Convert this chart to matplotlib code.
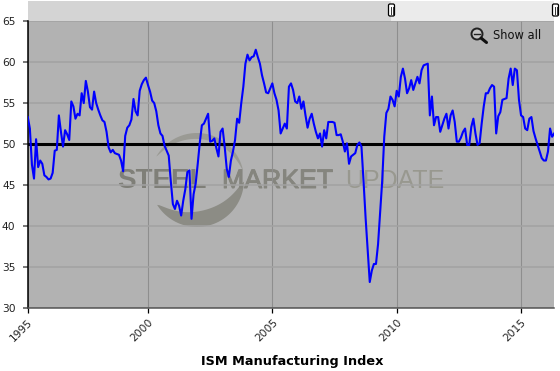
import numpy as np
import matplotlib
matplotlib.use("Agg")
import matplotlib.pyplot as plt
import matplotlib.patheffects as pe
from matplotlib.patches import Rectangle, Circle, Polygon, FancyBboxPatch

# ISM index, monthly from March 1995, one row per 12 months
ism = [
    53.3, 51.9, 47.5, 45.8, 50.6, 47.2, 48.0, 47.6, 46.2, 46.0, 45.7, 45.8,
    46.5, 49.2, 49.3, 53.5, 51.5, 49.7, 51.7, 51.2, 50.5, 55.2, 54.6, 53.1,
    53.7, 53.5, 56.2, 55.0, 57.7, 56.4, 54.5, 54.2, 56.4, 55.0, 54.2, 53.5,
    52.9, 52.7, 51.5, 49.6, 49.0, 49.3, 48.9, 48.8, 48.7, 48.0, 46.7, 51.0,
    52.0, 52.3, 53.0, 55.5, 54.0, 53.5, 56.5, 57.3, 57.8, 58.1, 57.2, 56.4,
    55.3, 55.0, 54.0, 52.3, 51.3, 51.0, 49.8, 49.2, 48.6, 45.5, 42.7, 42.1,
    43.1, 42.5, 41.3, 43.1, 44.5, 46.6, 46.8, 40.9, 43.9, 45.2, 47.6, 50.2,
    52.3, 52.5, 53.1, 53.7, 50.3, 50.4, 50.7, 49.5, 48.5, 51.5, 51.9, 49.7,
    47.0, 46.0, 48.0, 49.1, 50.5, 53.1, 52.6, 55.0, 57.0, 59.8, 60.9, 60.2,
    60.6, 60.7, 61.5, 60.6, 59.8, 58.4, 57.4, 56.3, 56.2, 56.8, 57.4, 56.2,
    55.4, 54.1, 51.3, 51.9, 52.5, 51.9, 57.0, 57.4, 56.6, 55.2, 55.0, 55.8,
    54.3, 55.2, 53.5, 52.0, 53.1, 53.7, 52.5, 51.5, 50.7, 51.3, 49.7, 51.7,
    50.7, 52.7, 52.7, 52.7, 52.6, 51.1, 51.1, 51.2, 50.3, 49.1, 50.1, 47.6,
    48.5, 48.7, 48.9, 49.9, 50.2, 49.7, 45.5, 41.0, 37.0, 33.2, 34.6, 35.4,
    35.4, 37.8, 41.7, 45.5, 50.9, 53.8, 54.3, 55.8, 55.4, 54.6, 56.5, 55.8,
    58.2, 59.2, 58.0, 56.2, 56.8, 57.8, 56.6, 57.4, 58.2, 57.4, 59.0, 59.6,
    59.7, 59.8, 53.5, 55.8, 52.3, 53.3, 53.3, 51.5, 52.3, 53.1, 53.7, 51.9,
    53.5, 54.1, 52.7, 50.3, 50.3, 50.8, 51.5, 51.9, 49.9, 49.9, 52.1, 53.1,
    51.3, 49.9, 50.1, 52.5, 54.6, 56.2, 56.2, 56.8, 57.2, 57.0, 51.3, 53.4,
    53.9, 55.4, 55.5, 55.6, 58.0, 59.2, 57.2, 59.2, 59.0, 55.4, 53.5, 53.3,
    51.9, 51.7, 53.1, 53.3, 51.6, 50.7, 49.9, 49.1, 48.3, 48.0, 48.0, 49.1,
    51.9, 50.9, 51.3,
]
first_month = 1995 + 2 / 12
threshold = 50
y_ticks = [30, 35, 40, 45, 50, 55, 60, 65]
x_ticks = [1995.155, 2000, 2005, 2010, 2015]
x_labels = ["1995", "2000", "2005", "2010", "2015"]

W, H = 560, 371
fig = plt.figure(figsize=(W / 100, H / 100), dpi=100, facecolor="white")

# background layer in pixel coordinates (range bar, plot fill, watermark)
bg = fig.add_axes([0, 0, 1, 1], zorder=0)
bg.set_xlim(0, W)
bg.set_ylim(H, 0)
bg.axis("off")
bg.add_patch(Rectangle((27.5, 1), 364, 20, fc="#d4d4d4", ec="none"))
bg.add_patch(Rectangle((391, 1), 163, 20, fc="#ebebeb", ec="none"))
bg.add_patch(Rectangle((27.5, 21), 526.5, 287.3, fc="#b2b2b2", ec="none"))


def crescent(start, end, thick, color):
    # logo arc, thickest in the middle and tapering to both tips
    cx, cy, r = 197, 180, 47
    deg = np.linspace(start, end, 80)
    t = np.radians(deg)
    u = np.linspace(0, 1, 80)
    inner = r - thick * np.sin(np.pi * u) ** 0.7
    xo, yo = cx + r * np.cos(t), cy - r * np.sin(t)
    xi, yi = cx + inner * np.cos(t), cy - inner * np.sin(t)
    pts = np.column_stack([np.r_[xo, xi[::-1]], np.r_[yo, yi[::-1]]])
    bg.add_patch(Polygon(pts, closed=True, fc=color, ec="none"))


crescent(150, 12, 6, "#9a9a94")
crescent(-2, -148, 16, "#8c8c85")

bg.text(117, 181, "STEEL", fontsize=20, fontweight="bold", color="#7f7f78",
        va="center", ha="left", family="Liberation Sans")
market = bg.text(222, 181, "MARKET", fontsize=19.2, color="#85857e",
                 va="center", ha="left", family="Liberation Sans")
market.set_path_effects([pe.withStroke(linewidth=0.7, foreground="#85857e")])
bg.text(345, 181, "UPDATE", fontsize=18, color="#98988f",
        va="center", ha="left", family="Liberation Sans")

# chart
ax = fig.add_axes([27.5 / W, (H - 308.3) / H, 526.5 / W, 287.3 / H], zorder=1)
ax.patch.set_visible(False)
x = first_month + np.arange(len(ism)) / 12
ax.set_xlim(1995.155, 2016.325)
ax.set_ylim(30, 65)
ax.grid(axis="y", color="#a2a2a2", linewidth=1.1)
ax.grid(axis="x", color="#8e8e8e", linewidth=0.8)
ax.set_axisbelow(True)
ax.axhline(threshold, color="black", linewidth=2.2, zorder=2)
ax.plot(x, ism, color="#0000ff", linewidth=1.5, zorder=3)

ax.set_yticks(y_ticks)
ax.set_xticks(x_ticks)
ax.set_xticklabels(x_labels, rotation=45, ha="right", rotation_mode="anchor")
ax.tick_params(axis="y", length=3.6, width=1.4, color="#777777", labelsize=7.7,
               pad=5, labelcolor="#222222")
ax.tick_params(axis="x", length=3.6, width=0.9, color="black", labelsize=7.7,
               pad=3, labelcolor="#222222")
for side in ["top", "right"]:
    ax.spines[side].set_visible(False)
ax.spines["left"].set_color("black")
ax.spines["left"].set_linewidth(1.1)
ax.spines["bottom"].set_color("#555555")
ax.spines["bottom"].set_linewidth(1.1)

# top layer: range handles, zoom icon, title
top = fig.add_axes([0, 0, 1, 1], zorder=2)
top.set_xlim(0, W)
top.set_ylim(H, 0)
top.axis("off")
for hx in [391.5, 555.5]:
    top.add_patch(FancyBboxPatch((hx - 3, 4), 6, 12, boxstyle="round,pad=0,rounding_size=1.5",
                                 fc="white", ec="black", lw=0.9))
    top.plot([hx - 1, hx - 1], [6.5, 13.5], color="#333333", lw=0.7)
    top.plot([hx + 1, hx + 1], [6.5, 13.5], color="#333333", lw=0.7)
top.add_patch(Circle((477, 34), 5.5, fc="#c4c4c4", ec="#222222", lw=1.4))
top.plot([474, 480], [34, 34], color="#222222", lw=1)
top.plot([481, 486.5], [38, 42.5], color="#111111", lw=2.2, solid_capstyle="round")
top.text(493, 35.5, "Show all", fontsize=8.3, color="#111111", va="center", ha="left")
top.text(292, 362, "ISM Manufacturing Index", fontsize=9.3, fontweight="bold",
         color="black", va="center", ha="center")

fig.savefig("out.png", dpi=100)
